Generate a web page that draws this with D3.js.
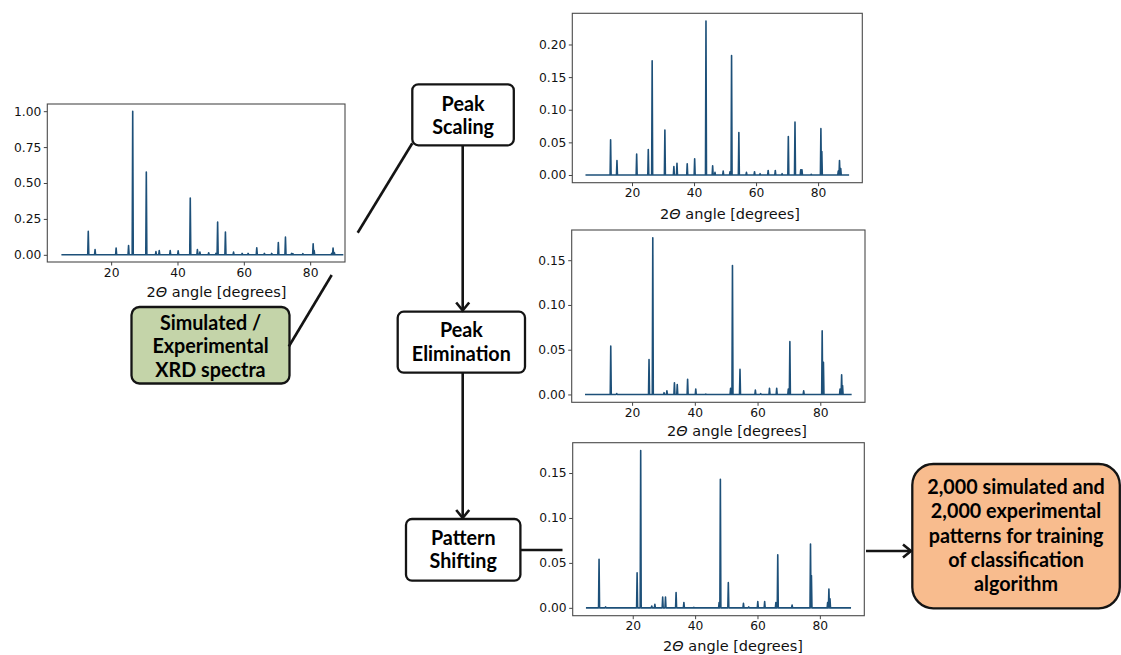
<!DOCTYPE html>
<html>
<head>
<meta charset="utf-8">
<script src="https://cdn.jsdelivr.net/npm/d3@7"></script>
<style>
  html, body { margin: 0; padding: 0; background: #ffffff; }
  svg { display: block; }
</style>
</head>
<body>
<svg id="fig" width="1121" height="655"></svg>
<script>
// ---------------- DATA ----------------
const xTicks = [20, 40, 60, 80];
const xStart = 5, xEnd = 90;

const yTicksOriginal = [0, 0.25, 0.5, 0.75, 1.0];
const yTicksScaled = [0, 0.05, 0.10, 0.15, 0.20];
const yTicksEliminated = [0, 0.05, 0.10, 0.15];
const yTicksShifted = [0, 0.05, 0.10, 0.15];

// peak positions shared by the original and the scaled pattern (2θ, degrees)
const peakPos = [13.1, 15.15, 21.5, 25.25, 26.5, 30.6, 33.5, 34.5, 37.8, 40.2, 43.85, 46.0, 46.75, 49.4, 51.6, 52.1, 54.45, 56.9, 59.5, 61.3, 63.9, 66.2, 68.4, 70.4, 72.55, 74.4, 74.8, 77.8, 80.9, 81.2, 86.5, 86.9, 87.3];
const originalHeights = [0.163, 0.037, 0.047, 0.065, 1.00, 0.577, 0.023, 0.030, 0.030, 0.028, 0.395, 0.037, 0.020, 0.014, 0.010, 0.228, 0.158, 0.019, 0.010, 0.010, 0.049, 0.010, 0.010, 0.086, 0.123, 0.010, 0.008, 0.008, 0.077, 0.030, 0.010, 0.047, 0.015];
const scaledHeights = [0.054, 0.022, 0.032, 0.039, 0.175, 0.069, 0.013, 0.018, 0.017, 0.025, 0.236, 0.014, 0.004, 0.006, 0.005, 0.183, 0.065, 0.004, 0.005, 0.002, 0.007, 0.007, 0.002, 0.059, 0.081, 0.008, 0.008, 0.001, 0.071, 0.036, 0.006, 0.022, 0.010];

// after peak elimination
const eliminatedPos = [13.2, 15.1, 25.4, 26.6, 30.2, 31.1, 33.5, 34.4, 37.7, 40.3, 43.5, 51.4, 52.0, 54.4, 59.3, 61.0, 63.8, 66.1, 69.8, 70.3, 74.7, 80.6, 81.0, 86.3, 86.8, 87.1];
const eliminatedHeights = [0.054, 0.001, 0.039, 0.175, 0.002, 0.004, 0.013, 0.011, 0.017, 0.006, 0.0005, 0.007, 0.144, 0.028, 0.005, 0.001, 0.007, 0.007, 0.006, 0.059, 0.004, 0.071, 0.036, 0.006, 0.022, 0.010];

// after pattern shifting
const shiftedPos = [9.2, 11.3, 21.4, 22.55, 26.1, 27.1, 29.6, 30.5, 33.9, 36.4, 39.6, 47.7, 48.1, 50.65, 55.5, 57.2, 60.1, 62.3, 65.9, 66.5, 71.1, 77.0, 77.3, 82.5, 82.9, 83.25];
const shiftedHeights = [0.054, 0.001, 0.039, 0.175, 0.002, 0.004, 0.012, 0.012, 0.017, 0.006, 0.0005, 0.006, 0.143, 0.028, 0.005, 0.001, 0.007, 0.007, 0.006, 0.059, 0.003, 0.071, 0.036, 0.006, 0.021, 0.010];

const xLabelPre = "2", xLabelSym = "Θ", xLabelPost = " angle [degrees]";

const boxTexts = {
  source: ["Simulated /", "Experimental", "XRD spectra"],
  scaling: ["Peak", "Scaling"],
  elimination: ["Peak", "Elimination"],
  shifting: ["Pattern", "Shifting"],
  output: ["2,000 simulated and", "2,000 experimental", "patterns for training", "of classification", "algorithm"]
};

// ---------------- DRAWING ----------------
const svg = d3.select("#fig");
const lineColor = "#1d5079";
const halfWidth = 0.16;

function drawChart(cfg) {
  const [x0, y0, x1, y1] = cfg.frame;
  const x = d3.scaleLinear().domain(cfg.xlim).range([x0, x1]);
  const y = d3.scaleLinear().domain(cfg.ylim).range([y1, y0]);
  const g = svg.append("g");

  const peaks = cfg.pos.map((p, i) => ({p, h: cfg.h[i]})).sort((a, b) => a.p - b.p);
  const pts = [[xStart, 0]];
  peaks.forEach(d => { pts.push([d.p - halfWidth, 0], [d.p, d.h], [d.p + halfWidth, 0]); });
  pts.push([xEnd, 0]);

  g.append("path")
    .attr("d", d3.line().x(d => x(d[0])).y(d => y(d[1]))(pts))
    .attr("fill", "none").attr("stroke", lineColor).attr("stroke-width", 1.6)
    .attr("stroke-linejoin", "round");

  const xa = g.append("g").attr("transform", `translate(0,${y1})`)
    .call(d3.axisBottom(x).tickValues(xTicks).tickSize(3.5).tickPadding(2.5).tickFormat(d3.format("d")));
  const ya = g.append("g").attr("transform", `translate(${x0},0)`)
    .call(d3.axisLeft(y).tickValues(cfg.yticks).tickSize(3.5).tickPadding(2.5).tickFormat(d3.format(".2f")));
  [xa, ya].forEach(a => {
    a.select(".domain").remove();
    a.selectAll("line").attr("stroke", "#444").attr("stroke-width", 1);
    a.selectAll("text").attr("fill", "#111").style("font-family", "'DejaVu Sans'").style("font-size", "12.3px");
  });

  g.append("rect").attr("x", x0).attr("y", y0).attr("width", x1 - x0).attr("height", y1 - y0)
    .attr("fill", "none").attr("stroke", "#4a4a4a").attr("stroke-width", 1.1);

  const t = g.append("text").attr("x", cfg.labelX).attr("y", cfg.labelY)
    .attr("text-anchor", "middle").attr("fill", "#111")
    .style("font-family", "'DejaVu Sans'").style("font-size", "14.5px");
  t.append("tspan").text(xLabelPre);
  t.append("tspan").style("font-style", "italic").text(xLabelSym);
  t.append("tspan").text(xLabelPost);
}

drawChart({frame: [47.3, 104, 345, 262], xlim: [0.75, 90.5], ylim: [-0.05, 1.05], yticks: yTicksOriginal,
  pos: peakPos, h: originalHeights, labelX: 216.5, labelY: 297});
drawChart({frame: [572.3, 13.3, 862.3, 182.7], xlim: [0.75, 94.25], ylim: [-0.0118, 0.2478], yticks: yTicksScaled,
  pos: peakPos, h: scaledHeights, labelX: 730, labelY: 219});
drawChart({frame: [571.7, 230, 865, 402.3], xlim: [0.75, 94.25], ylim: [-0.00875, 0.18375], yticks: yTicksEliminated,
  pos: eliminatedPos, h: eliminatedHeights, labelX: 737, labelY: 435.5});
drawChart({frame: [572.7, 442.7, 864.3, 615.7], xlim: [0.75, 94.25], ylim: [-0.00875, 0.18375], yticks: yTicksShifted,
  pos: shiftedPos, h: shiftedHeights, labelX: 733, labelY: 650.5});

// ---------------- FLOW BOXES ----------------
const ink = "#141414";
function box(b, lines) {
  const g = svg.append("g");
  g.append("rect").attr("x", b.x).attr("y", b.y).attr("width", b.w).attr("height", b.h)
    .attr("rx", b.r).attr("ry", b.r).attr("fill", b.fill).attr("stroke", ink).attr("stroke-width", 2.3);
  const tg = g.append("g").attr("transform", `translate(${b.x + b.w / 2},0) scale(0.95,1)`);
  const t = tg.append("text").attr("x", 0).attr("y", b.base).attr("text-anchor", "middle")
    .attr("fill", "#000").style("font-family", "Lato, 'Open Sans', sans-serif").style("font-weight", "bold")
    .style("font-size", "20.8px");
  lines.forEach((s, i) => {
    t.append("tspan").attr("x", 0).attr("dy", i === 0 ? 0 : b.lh).text(s);
  });
}
box({x: 131.5, y: 307, w: 158, h: 76.5, r: 8, fill: "#c4d4a9", base: 330, lh: 23.3}, boxTexts.source);
box({x: 412.3, y: 84.3, w: 101.5, h: 61, r: 6, fill: "#ffffff", base: 111, lh: 23}, boxTexts.scaling);
box({x: 397.7, y: 311.7, w: 127.3, h: 61, r: 6, fill: "#ffffff", base: 337.5, lh: 23.3}, boxTexts.elimination);
box({x: 406, y: 519, w: 114.4, h: 61.7, r: 6, fill: "#ffffff", base: 545, lh: 23}, boxTexts.shifting);
box({x: 912.3, y: 464, w: 207.5, h: 144.3, r: 21, fill: "#f8bc8e", base: 494, lh: 24.3}, boxTexts.output);

// ---------------- CONNECTORS ----------------
function seg(a, b) {
  svg.append("line").attr("x1", a[0]).attr("y1", a[1]).attr("x2", b[0]).attr("y2", b[1])
    .attr("stroke", ink).attr("stroke-width", 2.6).attr("stroke-linecap", "butt");
}
function chevron(tip, dir) {
  const L = 8, W = 6.5;
  let p1, p2;
  if (dir === "down") { p1 = [tip[0] - W, tip[1] - L]; p2 = [tip[0] + W, tip[1] - L]; }
  else { p1 = [tip[0] - L, tip[1] - W]; p2 = [tip[0] - L, tip[1] + W]; }
  svg.append("path").attr("d", `M${p1[0]},${p1[1]}L${tip[0]},${tip[1]}L${p2[0]},${p2[1]}`)
    .attr("fill", "none").attr("stroke", ink).attr("stroke-width", 2.6).attr("stroke-linejoin", "miter");
}
seg([462.7, 145.5], [462.7, 310]); chevron([462.7, 310.5], "down");
seg([462.7, 373], [462.7, 518]); chevron([462.7, 518], "down");
seg([520.5, 550], [562.5, 550]);
seg([866, 551], [910.5, 551]); chevron([911, 551], "right");
seg([357.7, 232.7], [412.3, 143.3]);
seg([331.7, 275], [288.8, 346.5]);
</script>
</body>
</html>
